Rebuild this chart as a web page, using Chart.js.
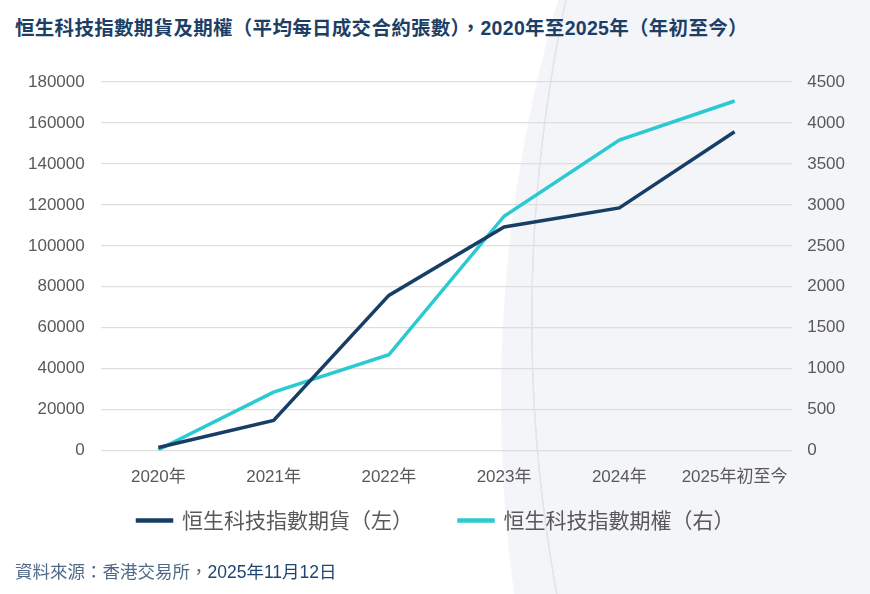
<!DOCTYPE html>
<html>
<head>
<meta charset="utf-8">
<script src="https://cdn.jsdelivr.net/npm/chart.js@4.4.1/dist/chart.umd.min.js"></script>
<style>
  html, body { margin: 0; padding: 0; }
  body {
    width: 870px; height: 594px; overflow: hidden; position: relative;
    background:
      radial-gradient(circle 1520px at 2052px 320px, transparent 1519px, #e3e5ea 1519.5px, #e3e5ea 1520.5px, transparent 1521.5px),
      radial-gradient(circle 1428px at 1929px 400px, #f4f5f8 1427.5px, #ffffff 1428.5px);
    font-family: "Liberation Sans", "Noto Sans CJK TC", sans-serif;
  }
  #title {
    position: absolute; left: 15px; top: 12px;
    font-size: 19.5px; font-weight: bold; color: #1d3f66; white-space: nowrap;
    letter-spacing: 0.3px;
  }
  #source {
    position: absolute; left: 15px; top: 558px;
    font-size: 17.5px; color: #4f6a89; white-space: nowrap;
  }
  #source span { color: #1f4570; }
  #wrap { position: absolute; left: 0; top: 0; width: 870px; height: 594px; }
</style>
</head>
<body>
<div id="title">恒生科技指數期貨及期權（平均每日成交合約張數），2020年至2025年（年初至今）</div>
<div id="wrap"><canvas id="chart"></canvas></div>
<div id="source">資料來源：香港交易所，<span>2025年11月12日</span></div>
<script>
const years = ['2020年', '2021年', '2022年', '2023年', '2024年', '2025年初至今'];
const futuresLabel = '恒生科技指數期貨（左）';
const optionsLabel = '恒生科技指數期權（右）';
const futures = [1500, 14700, 75800, 109200, 118500, 155700];
const options = [10, 713, 1170, 2861, 3791, 4268];

const tickFont = { family: "'Liberation Sans', 'Noto Sans CJK TC', sans-serif", size: 17 };
const tickColor = '#595959';

// legend padding also sets the gap between items, so pull the box back up afterwards
const legendLift = {
    id: 'legendLift',
    afterLayout(chart) {
        chart.legend.top -= 33;
        chart.legend.bottom -= 33;
    }
};

const ctx = document.getElementById('chart').getContext('2d');

new Chart(ctx, {
    type: 'line',
    data: {
        labels: years,
        datasets: [{
            label: futuresLabel,
            data: futures,
            yAxisID: 'y',
            borderColor: '#173e65',
            backgroundColor: '#173e65',
            borderWidth: 3.5,
            pointRadius: 0,
            tension: 0
        }, {
            label: optionsLabel,
            data: options,
            yAxisID: 'y1',
            borderColor: '#2bc9d2',
            backgroundColor: '#2bc9d2',
            borderWidth: 3.5,
            pointRadius: 0,
            tension: 0
        }]
    },
    options: {
        responsive: true,
        maintainAspectRatio: false,
        animation: false,
        layout: {
            padding: { top: 82, left: 12, right: 10, bottom: 20 }
        },
        scales: {
            x: {
                offset: true,
                grid: { display: false },
                border: { display: false },
                ticks: { color: tickColor, font: tickFont, padding: 9, maxRotation: 0, autoSkip: false }
            },
            y: {
                position: 'left',
                min: 0,
                max: 180000,
                grid: { color: '#dedede', lineWidth: 1.2, drawTicks: false },
                border: { display: false },
                ticks: { stepSize: 20000, color: tickColor, font: tickFont, padding: 16,
                    callback: v => String(v) }
            },
            y1: {
                position: 'right',
                min: 0,
                max: 4500,
                grid: { drawOnChartArea: false, drawTicks: false },
                border: { display: false },
                ticks: { stepSize: 500, color: tickColor, font: tickFont, padding: 15,
                    callback: v => String(v) }
            }
        },
        plugins: {
            legend: {
                position: 'bottom',
                labels: {
                    boxWidth: 34,
                    boxHeight: 1,
                    padding: 46,
                    color: '#595959',
                    font: { family: "'Noto Sans CJK TC', sans-serif", size: 21 }
                }
            },
            tooltip: { enabled: false }
        }
    },
    plugins: [legendLift]
});
</script>
</body>
</html>
